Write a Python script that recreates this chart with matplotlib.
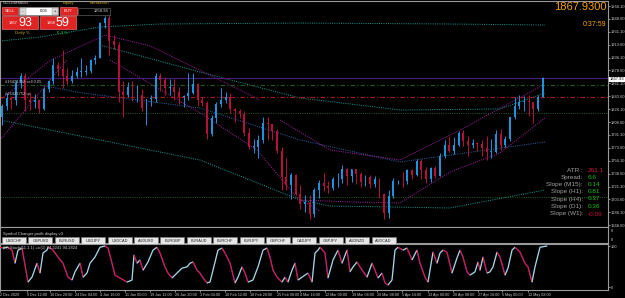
import numpy as np
import matplotlib
matplotlib.use("Agg")
import matplotlib.pyplot as plt
from matplotlib.collections import LineCollection
from matplotlib.patches import Rectangle

plt.rcParams["font.family"] = ["Liberation Sans", "DejaVu Sans"]

# daily XAUUSD bars, 2 Dec 2020 .. 17 May 2021
first_open = 1815
closes = [1830, 1841, 1839, 1862, 1871, 1839, 1836, 1839, 1827, 1854, 1864, 1886, 1881, 1871, 1864, 1871, 1877, 1877, 1878, 1893, 1895,
          1943, 1950, 1918, 1913, 1849, 1845, 1856, 1845, 1845, 1828, 1840, 1840, 1871, 1866, 1855, 1856, 1850, 1843, 1844, 1848,
          1860, 1838, 1835, 1793, 1814, 1833, 1838, 1842, 1826, 1823, 1819, 1794, 1775, 1775, 1784, 1808, 1806, 1797, 1770, 1734,
          1723, 1737, 1711, 1698, 1700, 1684, 1716, 1726, 1722, 1719, 1731, 1731, 1745, 1735, 1745, 1738, 1727, 1734, 1725, 1732, 1711, 1685, 1708,
          1728, 1729, 1728, 1743, 1737, 1756, 1744, 1732, 1746, 1736, 1763, 1777, 1770, 1778, 1794, 1783, 1777, 1780, 1779, 1773, 1768, 1768,
          1792, 1778, 1785, 1815, 1831, 1836, 1837, 1836, 1826, 1843, 1868]
highs = [1833, 1848, 1844, 1866, 1875, 1875, 1849, 1847, 1839, 1856, 1866, 1896, 1890, 1907, 1882, 1879, 1884, 1895, 1886, 1894, 1900,
         1944, 1953, 1959, 1927, 1917, 1864, 1863, 1864, 1859, 1854, 1840, 1845, 1875, 1875, 1870, 1867, 1867, 1856, 1845, 1875,
         1875, 1861, 1843, 1837, 1818, 1836, 1855, 1849, 1848, 1828, 1826, 1823, 1800, 1786, 1791, 1815, 1815, 1806, 1799, 1775,
         1760, 1740, 1738, 1723, 1710, 1710, 1719, 1730, 1740, 1728, 1734, 1740, 1750, 1746, 1745, 1745, 1741, 1737, 1737, 1735, 1733, 1713, 1717,
         1733, 1730, 1741, 1745, 1745, 1759, 1758, 1747, 1748, 1749, 1766, 1784, 1790, 1789, 1797, 1798, 1790, 1785, 1782, 1784, 1790, 1786,
         1798, 1799, 1790, 1816, 1843, 1845, 1844, 1845, 1836, 1846, 1870]
lows = [1804, 1825, 1826, 1832, 1855, 1824, 1825, 1828, 1821, 1825, 1850, 1860, 1871, 1855, 1860, 1861, 1869, 1870, 1873, 1875, 1888,
        1895, 1936, 1900, 1908, 1836, 1816, 1842, 1837, 1836, 1824, 1804, 1830, 1836, 1851, 1846, 1846, 1838, 1833, 1829, 1838,
        1847, 1831, 1830, 1785, 1790, 1807, 1829, 1834, 1821, 1809, 1814, 1790, 1772, 1767, 1760, 1780, 1784, 1784, 1767, 1717,
        1717, 1704, 1709, 1690, 1687, 1677, 1680, 1705, 1715, 1713, 1716, 1721, 1726, 1723, 1727, 1724, 1720, 1722, 1719, 1720, 1705, 1677, 1678,
        1705, 1725, 1721, 1725, 1732, 1735, 1731, 1726, 1727, 1733, 1735, 1760, 1768, 1765, 1776, 1776, 1763, 1774, 1770, 1763, 1757, 1760,
        1766, 1771, 1775, 1783, 1813, 1826, 1823, 1817, 1808, 1824, 1843]

price_ticks = [1966.10, 1948.60, 1931.10, 1913.60, 1896.10, 1878.60, 1861.10, 1843.60, 1826.10,
               1808.60, 1791.10, 1773.60, 1756.10, 1738.60, 1721.10, 1703.60, 1686.10, 1668.60]
time_labels = ["2 Dec 2020", "9 Dec 12:00", "16 Dec 20:00", "24 Dec 04:00", "4 Jan 16:00", "11 Jan 00:00",
               "19 Jan 12:00", "26 Jan 20:00", "3 Feb 04:00", "10 Feb 12:00", "18 Feb 20:00", "25 Feb 08:00",
               "4 Mar 16:00", "12 Mar 00:00", "19 Mar 04:00", "26 Mar 08:00", "5 Apr 16:00", "13 Apr 00:00",
               "20 Apr 08:00", "27 Apr 16:00", "5 May 00:00", "12 May 08:00"]
time_ticks = [0, 27, 50, 75, 100, 125, 150, 175, 200, 225, 250, 277, 300, 325, 352, 377, 402, 428, 453, 478, 502, 528]

# regression / envelope curves (time, price)
teal_upper = ([0, 40, 100, 160, 300, 450, 545], [1918.6, 1924.0, 1937.6, 1941.7, 1943.0, 1941.7, 1940.3])
teal_mid = ([100, 200, 300, 400, 500, 545], [1913.2, 1876.5, 1841.3, 1825.0, 1826.4, 1848.0])
teal_lower = ([0, 100, 200, 250, 300, 330, 450, 545], [1811.4, 1784.3, 1757.1, 1730.0, 1702.9, 1694.7, 1692.0, 1716.4])
blue_line = ([40, 83, 200, 300, 400, 545], [1858.9, 1848.0, 1827.7, 1784.3, 1754.4, 1781.6])
magenta_1 = ([0, 50, 105, 150, 200, 260], [1838.5, 1892.0, 1926.7, 1912.0, 1879.0, 1838.5])
magenta_2 = ([110, 200, 257, 297, 320], [1892.8, 1821.0, 1770.7, 1706.0, 1688.0])
magenta_3 = ([280, 330, 400, 460, 543], [1811.4, 1770.7, 1757.1, 1797.8, 1858.9])
magenta_4 = ([300, 350, 400, 450, 500, 545], [1702.9, 1700.2, 1698.8, 1740.9, 1766.7, 1814.2])
magenta_5 = ([0, 50, 67], [1784.0, 1865.7, 1892.8])

# stochastic pane (time, value)
stoch_x = [0, 3, 8, 12, 15, 18, 22, 28, 32, 37, 40, 43, 47, 48, 50, 53, 58, 63, 68, 72, 75, 80, 83, 87, 90, 95,
           100, 105, 108, 112, 115, 120, 127, 132, 134, 137, 140, 143, 148, 153, 157, 160, 165, 168, 172, 177, 182,
           187, 190, 193, 197, 200, 203, 207, 210, 213, 218, 222, 225, 230, 235, 238, 242, 245, 248, 253, 258, 263,
           267, 270, 273, 277, 282, 285, 288, 292, 295, 298, 302, 308, 312, 315, 318, 320, 325, 328, 333, 338, 342,
           347, 350, 353, 357, 360, 367, 372, 375, 378, 382, 385, 388, 392, 395, 398, 403, 407, 412, 417, 420, 425,
           428, 433, 437, 440, 443, 447, 452, 457, 460, 463, 467, 470, 475, 478, 480, 483, 487, 490, 493, 497, 500,
           505, 508, 512, 515, 520, 525, 528, 532, 535, 540, 547]
stoch_val = [97, 95, 97, 90, 58, 90, 95, 12, 24, 58, 34, 83, 90, 97, 95, 90, 73, 58, 24, 17, 37, 58, 24, 34, 58, 73,
             97, 100, 95, 58, 29, 22, 12, 17, 78, 58, 66, 41, 61, 90, 97, 83, 49, 34, 22, 34, 46,
             49, 58, 61, 41, 34, 22, 10, 12, 41, 90, 95, 83, 58, 10, 24, 49, 34, 12, 17, 49, 90,
             95, 73, 41, 24, 12, 24, 12, 41, 58, 17, 24, 34, 12, 83, 90, 97, 83, 22, 66, 90, 58,
             90, 37, 49, 61, 49, 24, 58, 41, 22, 34, 10, 5, 17, 90, 97, 90, 95, 66, 90, 58, 24,
             12, 85, 58, 83, 90, 85, 34, 71, 90, 73, 37, 29, 37, 61, 41, 73, 34, 37, 49, 85, 73,
             29, 46, 90, 97, 85, 58, 49, 12, 49, 97, 100]

symbols = ["USDCHF", "GBPUSD", "EURUSD", "USDJPY", "USDCAD", "AUDUSD", "EURGBP", "EURAUD",
           "EURCHF", "EURJPY", "GBPCHF", "CADJPY", "GBPJPY", "AUDNZD", "AUDCAD"]
info_names = ["ATR :", "Spread:", "Slope (M15):", "Slope (H1):", "Slope (H4):", "Slope (D1):", "Slope (W1):"]
info_values = ["261.1", "6.6", "0.14", "0.81", "0.37", "0.36", "-0.09"]

bid, ask = 1867.93, 1868.59
breakeven = 1858.94
tp_level = 1843.0

W, H = 625, 298
fig = plt.figure(figsize=(W / 100, H / 100), dpi=100, facecolor="black")


def rect(x0, y0, x1, y1):
    return [x0 / W, 1 - y1 / H, (x1 - x0) / W, (y1 - y0) / H]


grid_col = "#9a9a9a"
lab_col = "#c8c8c8"
bull_col, bear_col = "#1e93dc", "#b5123a"

# ---- main price chart
ax = fig.add_axes(rect(0, 1, 608, 227), facecolor="black")
ax.set_xlim(0, 608)
ax.set_ylim(1666.2, 1972.9)

o = np.array([first_open] + closes[:-1], dtype=float)
c = np.array(closes, dtype=float)
xs = 2 + np.arange(len(c)) * 4.66
cols = np.where(c >= o, bull_col, bear_col)
ax.vlines(xs, lows, highs, colors=cols, lw=0.7, zorder=3)
ax.bar(xs, np.maximum(np.abs(c - o), 0.8), bottom=np.minimum(o, c), width=1.9, color=cols, zorder=3)

dot = (0, (1, 1.3))
for (tx, ty), col in [(teal_upper, "#1a9c94"), (teal_mid, "#1a9c94"), (teal_lower, "#1a9c94"),
                      (blue_line, "#2f63a8"), (magenta_1, "#a61fa6"), (magenta_2, "#a61fa6"),
                      (magenta_3, "#a61fa6"), (magenta_4, "#a61fa6"), (magenta_5, "#a61fa6")]:
    ax.plot(tx, ty, color=col, lw=0.7, ls=dot, zorder=2)

ax.axhline(bid, color="#4b1a80", lw=0.8, zorder=2)
ax.axhline(breakeven, color="#1f5a1f", lw=0.8, ls=(0, (4, 2, 1, 2)), zorder=2)
ax.axhline(tp_level, color="#b01818", lw=0.8, ls=(0, (4, 2, 1, 2)), zorder=2)
ax.axhline(1820.9, color="#1f5a1f", lw=0.7, ls=dot, zorder=1)
ax.axhline(1707.0, color="#1f5a1f", lw=0.7, ls=dot, zorder=1)

ax.text(5, breakeven + 1.5, "#16421752 sell 0.05", color="#c8c8c8", fontsize=3.0, va="bottom", ha="left", zorder=5)
ax.text(5, tp_level + 1.5, "#16421752 tp", color="#c8c8c8", fontsize=3.0, va="bottom", ha="left", zorder=5)

ax.yaxis.tick_right()
ax.set_yticks(price_ticks)
ax.set_yticklabels([f"{p:.2f}" for p in price_ticks])
ax.tick_params(axis="y", direction="out", length=1.5, width=0.5, pad=0.6, labelsize=2.9, colors=lab_col)
ax.set_xticks([])
for s in ax.spines.values():
    s.set_color(grid_col)
    s.set_linewidth(0.8)

# ---- symbol changer strip
ax_s = fig.add_axes(rect(0, 227, 608, 243), facecolor="black")
ax_s.set_xticks([]); ax_s.set_yticks([])
for s in ax_s.spines.values():
    s.set_color(grid_col)
    s.set_linewidth(0.8)

# ---- stochastic pane
ax2 = fig.add_axes(rect(0, 244, 608, 290), facecolor="black")
ax2.set_xlim(0, 608)
ax2.set_ylim(-7.3, 104.9)
ax2.plot(stoch_x, stoch_val, color="#1a2cc8", lw=1.1, zorder=2)
pts = np.column_stack([stoch_x, stoch_val])
segs = np.stack([pts[:-1], pts[1:]], axis=1)
seg_cols = ["#ee1a1a" if b < a else "#b4e6a8" for a, b in zip(stoch_val[:-1], stoch_val[1:])]
ax2.add_collection(LineCollection(segs, colors=seg_cols, linewidths=0.8, zorder=3))
ax2.yaxis.tick_right()
ax2.set_yticks([0, 100])
ax2.set_yticklabels(["0", "100"])
ax2.tick_params(axis="y", direction="out", length=1.5, width=0.5, pad=0.6, labelsize=2.9, colors=lab_col)
ax2.set_xticks(time_ticks)
ax2.set_xticklabels(time_labels, ha="left")
ax2.tick_params(axis="x", direction="out", length=1.5, width=0.5, pad=0.8, labelsize=2.7, colors=lab_col)
for s in ax2.spines.values():
    s.set_color(grid_col)
    s.set_linewidth(0.8)
ax2.text(3, 101, "(H) Stoch(11,1,1) +ic(1) 94.2241 94.2824", color="#c8c8c8", fontsize=3.0, va="top", ha="left")

# ---- overlay for panels and labels, in pixel coordinates
ov = fig.add_axes([0, 0, 1, 1], facecolor="none")
ov.set_xlim(0, W)
ov.set_ylim(H, 0)
ov.axis("off")

ov.text(3, 233.5, "Symbol Changer profit display v3", color="#d0d0d0", fontsize=3.0, va="center", ha="left")
for k, sym in enumerate(symbols):
    bx = 2 + k * 26.4
    ov.add_patch(Rectangle((bx, 237), 24, 7, facecolor="#e6e6e6", edgecolor="#808080", lw=0.4))
    ov.text(bx + 12, 240.6, sym, color="#202020", fontsize=2.8, ha="center", va="center")

# right side labels
ov.text(607, 7.5, f"{bid:.4f}", color="#f2a000", fontsize=8, ha="right", va="center")
ov.text(606, 24.5, "0:37:59", color="#f2a000", fontsize=5, ha="right", va="center")
ov.add_patch(Rectangle((609, 76.5), 16, 5, facecolor="white", edgecolor="none"))
ov.text(609.5, 79, f"{bid:.2f}", color="black", fontsize=2.9, ha="left", va="center")
ov.text(611, 231, "0", color=lab_col, fontsize=2.9, ha="left", va="center")
ov.text(611, 240, "0", color=lab_col, fontsize=2.9, ha="left", va="center")

info_y = [170, 177.3, 184.5, 191.7, 199, 206.5, 214]
for nm, val, yy in zip(info_names, info_values, info_y):
    vc = "#d01040" if (nm.startswith("ATR") or val.startswith("-")) else "#18c018"
    ov.text(583, yy, nm, color="#a0a0a0", fontsize=4.6, ha="right", va="center")
    ov.text(588, yy, val, color=vc, fontsize=4.6, ha="left", va="center")

# trade panel
ov.text(3, 3, "GOLDMMBSI", color="#d0d0d0", fontsize=3.0, ha="left", va="center")
ov.text(63, 3, "Equity", color="#c8a020", fontsize=3.0, ha="left", va="center")
ov.text(90, 3, "Breakeven", color="#c8a020", fontsize=3.0, ha="left", va="center")
ov.add_patch(Rectangle((78, 7.5), 32, 7, facecolor="black", edgecolor="#707070", lw=0.4))
ov.text(108, 11, f"{breakeven:.2f}", color="#d0d0d0", fontsize=3.0, ha="right", va="center")
ov.add_patch(Rectangle((2, 7), 16, 8, facecolor="#e02424", edgecolor="#ff8080", lw=0.4))
ov.text(10, 11, "SELL", color="white", fontsize=3.0, ha="center", va="center")
ov.add_patch(Rectangle((19, 7), 39, 8, facecolor="white", edgecolor="#909090", lw=0.4))
ov.add_patch(Rectangle((19.5, 7.5), 6, 7, facecolor="#d8d8d8", edgecolor="#909090", lw=0.3))
ov.add_patch(Rectangle((51.5, 7.5), 6, 7, facecolor="#d8d8d8", edgecolor="#909090", lw=0.3))
ov.text(22.5, 11, "-", color="black", fontsize=3.0, ha="center", va="center")
ov.text(54.5, 11, "+", color="black", fontsize=3.0, ha="center", va="center")
ov.text(48, 11, "0.05", color="black", fontsize=3.0, ha="right", va="center")
ov.add_patch(Rectangle((60, 7), 17, 8, facecolor="#e02424", edgecolor="#ff8080", lw=0.4))
ov.text(68.5, 11, "BUY", color="white", fontsize=3.0, ha="center", va="center")
for bx, px in [(2, bid), (40, ask)]:
    ov.add_patch(Rectangle((bx, 15.5), 36, 13.5, facecolor="#e02424", edgecolor="#ff8080", lw=0.4))
    whole, frac = f"{px:.2f}".split(".")
    ov.text(bx + 15, 23.5, whole, color="white", fontsize=2.8, ha="right", va="center")
    ov.text(bx + 16, 22.5, frac, color="white", fontsize=9, ha="left", va="center")
ov.text(15, 33, "Daily %", color="#c8a020", fontsize=3.2, ha="left", va="center")
ov.text(57, 33, "0.3 %", color="#18c018", fontsize=3.2, ha="left", va="center")

fig.savefig("out.png", dpi=100, facecolor="black")
